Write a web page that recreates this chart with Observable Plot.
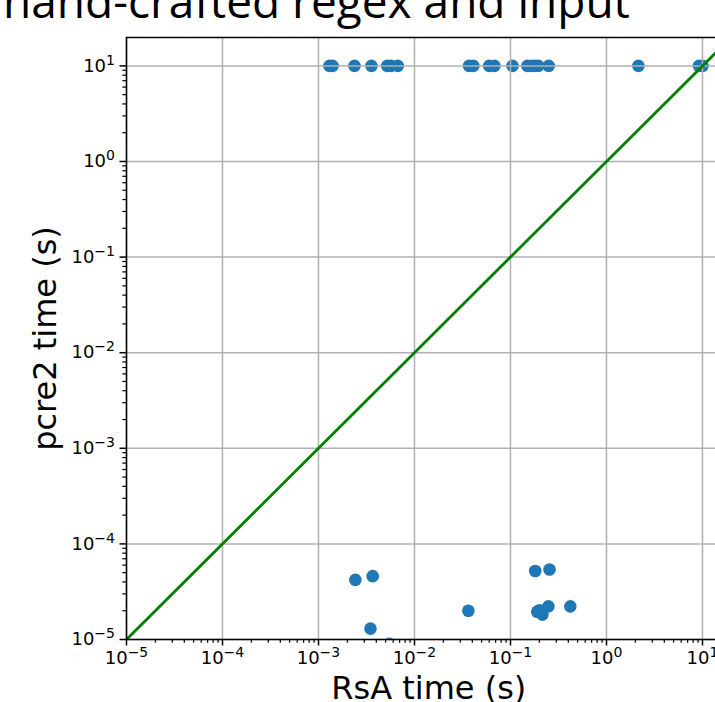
<!DOCTYPE html>
<html><head><meta charset="utf-8">
<script src="https://cdn.jsdelivr.net/npm/d3@7"></script>
<script src="https://cdn.jsdelivr.net/npm/@observablehq/plot@0.6"></script>
<style>
html,body{margin:0;padding:0;background:#fff;overflow:hidden;width:715px;height:702px;}
#wrap{position:relative;width:715px;height:702px;overflow:hidden;}
#title{position:absolute;left:3px;top:-23px;font-family:"Open Sans";font-size:46px;line-height:1;white-space:nowrap;color:#000;}
#chart{position:absolute;left:0;top:0;width:760px;}
#chart svg{max-width:none !important;}
</style></head><body>
<div id="wrap"><div id="chart"></div><div id="title"></div></div>
<script>
// ---- data ----
const title = "hand-crafted regex and input";
const xLabel = "RsA time (s)";
const yLabel = "pcre2 time (s)";

// timed-out cases (pcre2 hit the 10 s limit)
const timeoutRsA  = [0.0013, 0.0014, 0.00237, 0.00356, 0.0052, 0.0057, 0.0067, 0.037, 0.041, 0.06, 0.068, 0.105, 0.15, 0.165, 0.18, 0.195, 0.25, 2.15, 9.2, 10];
const timeoutPcre = [10, 10, 10, 10, 10, 10, 10, 10, 10, 10, 10, 10, 10, 10, 10, 10, 10, 10, 10, 10];

// fast pcre2 cases
const fastRsA  = [0.00242, 0.00367, 0.00348, 0.0055, 0.0364, 0.181, 0.255, 0.19, 0.2, 0.215, 0.248, 0.42];
const fastPcre = [4.2e-5, 4.6e-5, 1.3e-5, 9.0e-6, 2.0e-5, 5.2e-5, 5.4e-5, 1.95e-5, 2.02e-5, 1.82e-5, 2.22e-5, 2.22e-5];

// y = x reference line
const diagX = [1e-5, 100];
const diagY = [1e-5, 100];

const majorTicks = [1e-5, 1e-4, 1e-3, 1e-2, 1e-1, 1, 10];
const tickBase = "10";
const tickExponents = ["\u22125", "\u22124", "\u22123", "\u22122", "\u22121", "0", "1"];

// ---- build ----
const points = timeoutRsA.map((x, i) => ({x, y: timeoutPcre[i]}))
  .concat(fastRsA.map((x, i) => ({x, y: fastPcre[i]})));
const diag = diagX.map((x, i) => ({x, y: diagY[i]}));
const hi = Math.pow(10, 1.297);
const minorTicks = [];
for (let e = -5; e <= 1; e++) for (let m = 2; m <= 9; m++) { const v = m * Math.pow(10, e); if (v <= hi) minorTicks.push(v); }
const fmt = d => tickBase + "^" + tickExponents[majorTicks.indexOf(d)];

const chart = Plot.plot({
  width: 760, height: 702,
  marginLeft: 126, marginTop: 37, marginBottom: 63, marginRight: 29.5,
  style: {fontFamily: "DejaVu Sans", fontSize: "18px", background: "white", color: "black", overflow: "visible"},
  x: {type: "log", domain: [1e-5, hi]},
  y: {type: "log", domain: [1e-5, hi]},
  marks: [
    Plot.dot(points, {x: "x", y: "y", r: 6.3, fill: "#1f77b4", stroke: null, clip: true}),
    Plot.gridX(majorTicks, {stroke: "#b0b0b0", strokeOpacity: 1, strokeWidth: 1.5}),
    Plot.gridY(majorTicks, {stroke: "#b0b0b0", strokeOpacity: 1, strokeWidth: 1.5}),
    Plot.line(diag, {x: "x", y: "y", stroke: "green", strokeWidth: 2.8, clip: true}),
    Plot.axisX(minorTicks, {tickSize: 3.7, text: null, label: null, strokeWidth: 1.2}),
    Plot.axisY(minorTicks, {tickSize: 3.7, text: null, label: null, strokeWidth: 1.2}),
    Plot.axisX(majorTicks, {tickSize: 6.5, tickPadding: 5, tickFormat: fmt, label: null, strokeWidth: 1.5, fontSize: 18}),
    Plot.axisY(majorTicks, {tickSize: 6.5, tickPadding: 5, tickFormat: fmt, label: null, strokeWidth: 1.5, fontSize: 18}),
    Plot.frame({stroke: "black", strokeWidth: 1.5}),
    Plot.text([xLabel], {frameAnchor: "bottom", dy: 59, lineAnchor: "bottom", fontSize: 32}),
    Plot.text([yLabel], {frameAnchor: "left", rotate: -90, dx: -71, lineAnchor: "bottom", textAnchor: "middle", fontSize: 32})
  ]
});
chart.style.maxWidth = "none";
// render "10^e" tick labels with a real superscript
chart.querySelectorAll("text").forEach(t => {
  const s = t.textContent;
  if (s.startsWith(tickBase + "^")) {
    const exp = s.slice(tickBase.length + 1);
    t.textContent = tickBase;
    const sup = document.createElementNS("http://www.w3.org/2000/svg", "tspan");
    sup.textContent = exp;
    sup.setAttribute("font-size", "14");
    sup.setAttribute("dy", "-0.5em");
    t.appendChild(sup);
  }
});
document.getElementById("chart").appendChild(chart);
document.getElementById("title").textContent = title;
</script>
</body></html>
